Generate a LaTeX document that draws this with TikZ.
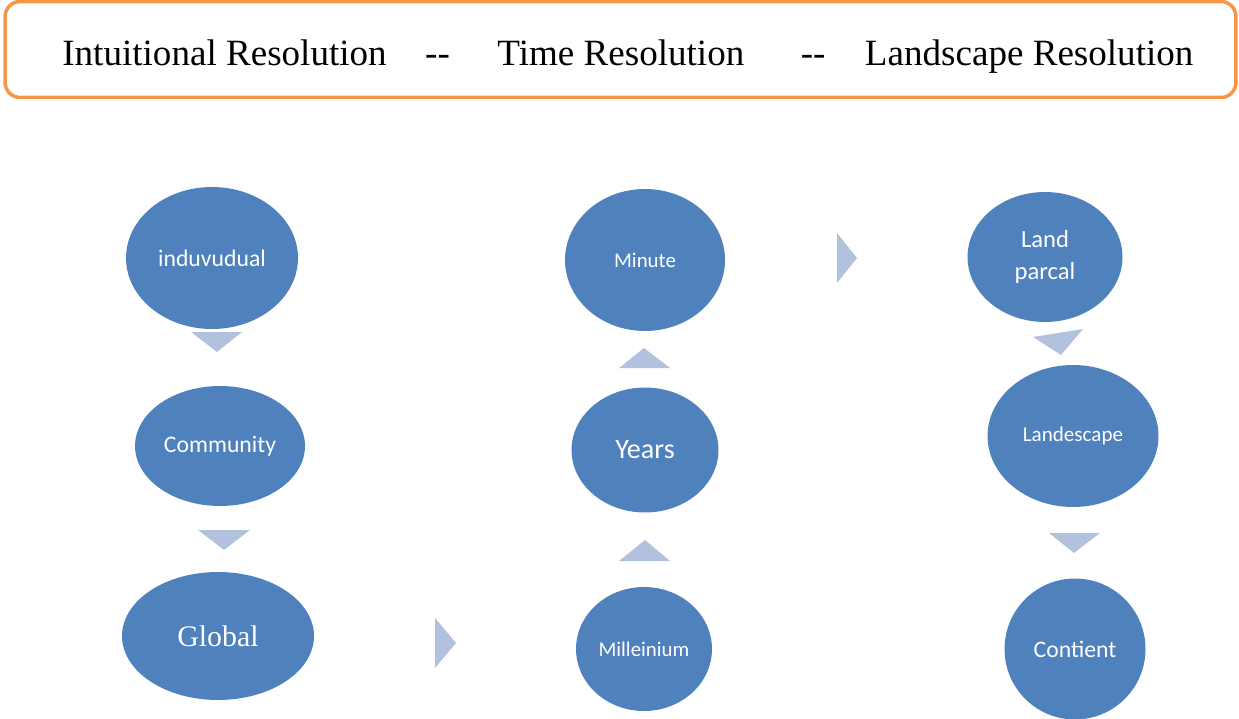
\documentclass[tikz,border=0pt]{standalone}
\usepackage{fontspec}
\setmainfont{Liberation Serif}
\newfontfamily\calibri{Carlito}
\usepackage{tikz}
\usetikzlibrary{shapes.geometric}
\definecolor{bubbleblue}{HTML}{4F81BD}
\definecolor{chevronblue}{HTML}{B2C1DD}
\definecolor{frameorange}{HTML}{F79646}

\begin{document}
\begin{tikzpicture}[
  x=0.02cm, y=-0.02cm,
  bubble/.style={ellipse, fill=bubbleblue, draw=none, text=white,
    inner sep=0pt, align=center, font=\calibri},
  bsize/.style 2 args={minimum width=#1cm, minimum height=#2cm},
  chevron/.style={fill=chevronblue, draw=none},
  frame/.style={rectangle, rounded corners=0.3cm, draw=frameorange,
    line width=2pt, minimum width=24.62cm, minimum height=1.92cm}
]
\useasboundingbox (0,0) rectangle (1239,719);

% Header
\node[frame] (header) at (620.5,49.5) {};
\node[anchor=base west, inner sep=0pt, font=\fontsize{21.1}{25}\selectfont] (title) at (62,66)
  {Intuitional Resolution\hspace{0.77cm}-{}-\hspace{0.95cm}Time Resolution\hspace{1.13cm}-{}-\hspace{0.79cm}Landscape Resolution};

% Column 1: Intuitional
\node[bubble, bsize={3.44}{2.84}, font=\calibri\fontsize{13.5}{16}\selectfont] (indiv) at (212,258) {induvudual};
\node[bubble, bsize={3.4}{2.4}, font=\calibri\fontsize{13.5}{16}\selectfont] (comm) at (220,446) {Community};
\node[bubble, bsize={3.84}{2.56}, font=\rmfamily\fontsize{17}{20}\selectfont] (global) at (218,636) {Global};

% Column 2: Time
\node[bubble, bsize={3.2}{2.84}, font=\calibri\fontsize{11.9}{14}\selectfont] (minute) at (645,260) {Minute};
\node[bubble, bsize={2.94}{2.5}, font=\calibri\fontsize{16}{19}\selectfont] (years) at (645,450) {Years};
\node[bubble, bsize={2.72}{2.48}, font=\calibri\fontsize{11.9}{14}\selectfont] (mill) at (644,649) {Milleinium};

% Column 3: Landscape
\node[bubble, bsize={3.1}{2.6}, font=\calibri\fontsize{14}{18}\selectfont] (parcel) at (1045,257) {Land\\parcal};
\node[bubble, bsize={3.42}{2.84}, font=\calibri\fontsize{12}{14}\selectfont] (lands) at (1073,436) {Landescape};
\node[bubble, bsize={2.82}{2.82}, font=\calibri\fontsize{13.5}{16}\selectfont] (cont) at (1075,649) {Contient};

% Chevrons
\fill[chevron] (191,332) -- (242,332) -- (217,352) -- cycle;
\fill[chevron] (198,530) -- (250,530) -- (224,550) -- cycle;
\fill[chevron] (435,618) -- (456,643) -- (435,668) -- cycle;
\fill[chevron] (619,561) -- (670,561) -- (645,540) -- cycle;
\fill[chevron] (619,368) -- (670,368) -- (644,348) -- cycle;
\fill[chevron] (837,233) -- (857,258) -- (837,283) -- cycle;
\fill[chevron] (1033,337) -- (1083,329) -- (1061,355) -- cycle;
\fill[chevron] (1049,533) -- (1100,533) -- (1074,553) -- cycle;

\end{tikzpicture}
\end{document}
